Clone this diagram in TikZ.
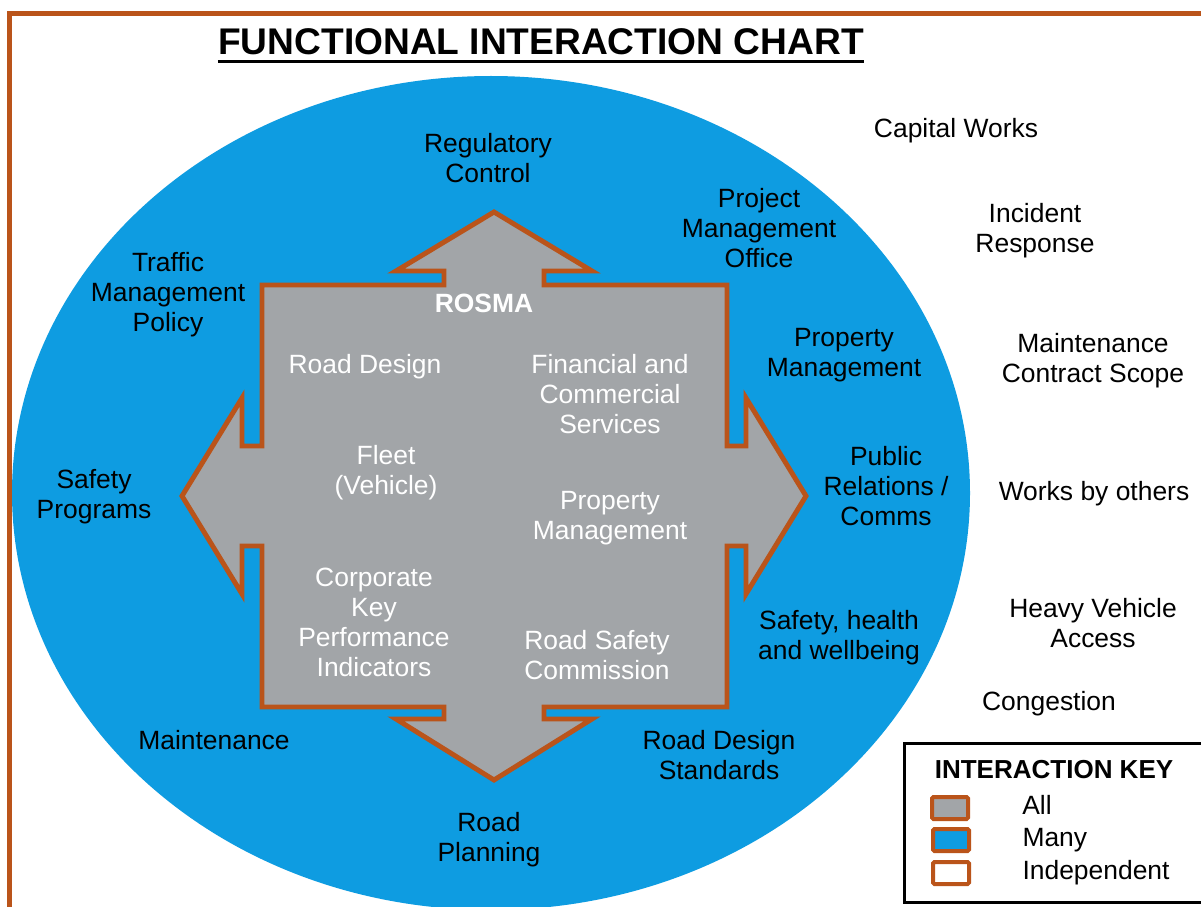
\documentclass[tikz,border=0pt]{standalone}
\usepackage{fontspec}
\setmainfont{Liberation Sans}
\usetikzlibrary{positioning}

\definecolor{rustline}{RGB}{186,84,26}
\definecolor{ovalblue}{RGB}{14,156,225}
\definecolor{rosmagrey}{RGB}{162,165,168}

\begin{document}
\begin{tikzpicture}[x=0.025cm,y=-0.025cm,
	lbl/.style={align=center,inner sep=0,font=\fontsize{18.8}{21.3}\selectfont},
	inlbl/.style={lbl,text=white},
	keybox/.style={draw=rustline,line width=2.85pt,minimum width=0.9cm,minimum height=0.55cm,inner sep=0,rounded corners=1pt},
	keytxt/.style={lbl}]

				    % Page and frame
				    \useasboundingbox (0,0) rectangle (1201,906);
				    \fill[white] (0,0) rectangle (1201,906);
				    \draw[rustline,line width=3.2pt] (9.5,910) -- (9.5,13.5) -- (1205,13.5);

				    % Title
				    \node[inner sep=0,font=\fontsize{26.4}{30}\selectfont\bfseries] (title) at (541,42) {FUNCTIONAL INTERACTION CHART};
				    \draw[line width=2.2pt] ([yshift=-4.6pt]title.base west) -- ([yshift=-4.6pt]title.base east);

				    % Many
				    \fill[ovalblue] (491,493) ellipse [x radius=479, y radius=417];

				    % All (ROSMA cross)
				    \draw[rustline,line width=3.5pt,fill=rosmagrey]
				    	(262,285) -- (444,285) -- (444,271) -- (396,271) -- (494,212) -- (592,271) -- (544,271) -- (544,285)
				    	-- (727,285) -- (727,446) -- (746,446) -- (746,398) -- (806,496) -- (746,594) -- (746,546) -- (727,546)
				    	-- (727,707) -- (544,707) -- (544,719) -- (592,719) -- (494,780) -- (396,719) -- (444,719) -- (444,707)
				    	-- (262,707) -- (262,546) -- (242,546) -- (242,594) -- (182,496) -- (242,398) -- (242,446) -- (262,446) -- cycle;

				    % Inside
				    \node[inlbl,font=\fontsize{18.8}{21.3}\selectfont\bfseries] (rosma) at (484,303) {ROSMA};
				    \node[inlbl] (rdesign) at (365,367) {Road Design};
				    \node[inlbl] (finance) at (610,394) {Financial and\\Commercial\\Services};
				    \node[inlbl] (fleet) at (386,473) {Fleet\\(Vehicle)};
				    \node[inlbl] (propin) at (610,518) {Property\\Management};
				    \node[inlbl] (kpi) at (374,622) {Corporate\\Key\\Performance\\Indicators};
				    \node[inlbl] (rsc) at (597,655) {Road Safety\\Commission};

				    % Many
				    \node[lbl] (regctl) at (488,158) {Regulatory\\Control};
				    \node[lbl] (pmo) at (759,228) {Project\\Management\\Office};
				    \node[lbl] (tmp) at (168,295) {Traffic\\Management\\Policy};
				    \node[lbl] (propout) at (844,355) {Property\\Management};
				    \node[lbl] (safeprog) at (94,497) {Safety\\Programs};
				    \node[lbl] (prcomms) at (886,486) {Public\\Relations /\\Comms};
				    \node[lbl] (shw) at (839,638) {Safety, health\\and wellbeing};
				    \node[lbl] (maint) at (214,740) {Maintenance};
				    \node[lbl] (rdstd) at (719,755) {Road Design\\Standards};
				    \node[lbl] (rplan) at (489,840) {Road\\Planning};

				    % Independent
				    \node[lbl] (capworks) at (956,131) {Capital Works};
				    \node[lbl] (incident) at (1035,231) {Incident\\Response};
				    \node[lbl] (mcscope) at (1093,361) {Maintenance\\Contract Scope};
				    \node[lbl] (others) at (1094,494) {Works by others};
				    \node[lbl] (hva) at (1093,623) {Heavy Vehicle\\Access};
				    \node[lbl] (congest) at (1049,704) {Congestion};

				    % Key
				    \draw[line width=2.3pt] (904.5,743.5) rectangle (1206,902.5);
				    \node[lbl,font=\fontsize{18.5}{21}\selectfont\bfseries] (keyhead) at (1054,770) {INTERACTION KEY};
				    \node[keybox,fill=rosmagrey] (kall) at (950,808) {};
				    \node[keybox,fill=ovalblue] (kmany) at (951,840) {};
				    \node[keybox,fill=white] (kind) at (951,873) {};
				    \node[keytxt,right=1.3cm of kall,yshift=2pt] (tall) {All};
				    \node[keytxt,right=1.28cm of kmany] (tmany) {Many};
				    \node[keytxt,right=1.28cm of kind] (tind) {Independent};
				\end{tikzpicture}
\end{document}
